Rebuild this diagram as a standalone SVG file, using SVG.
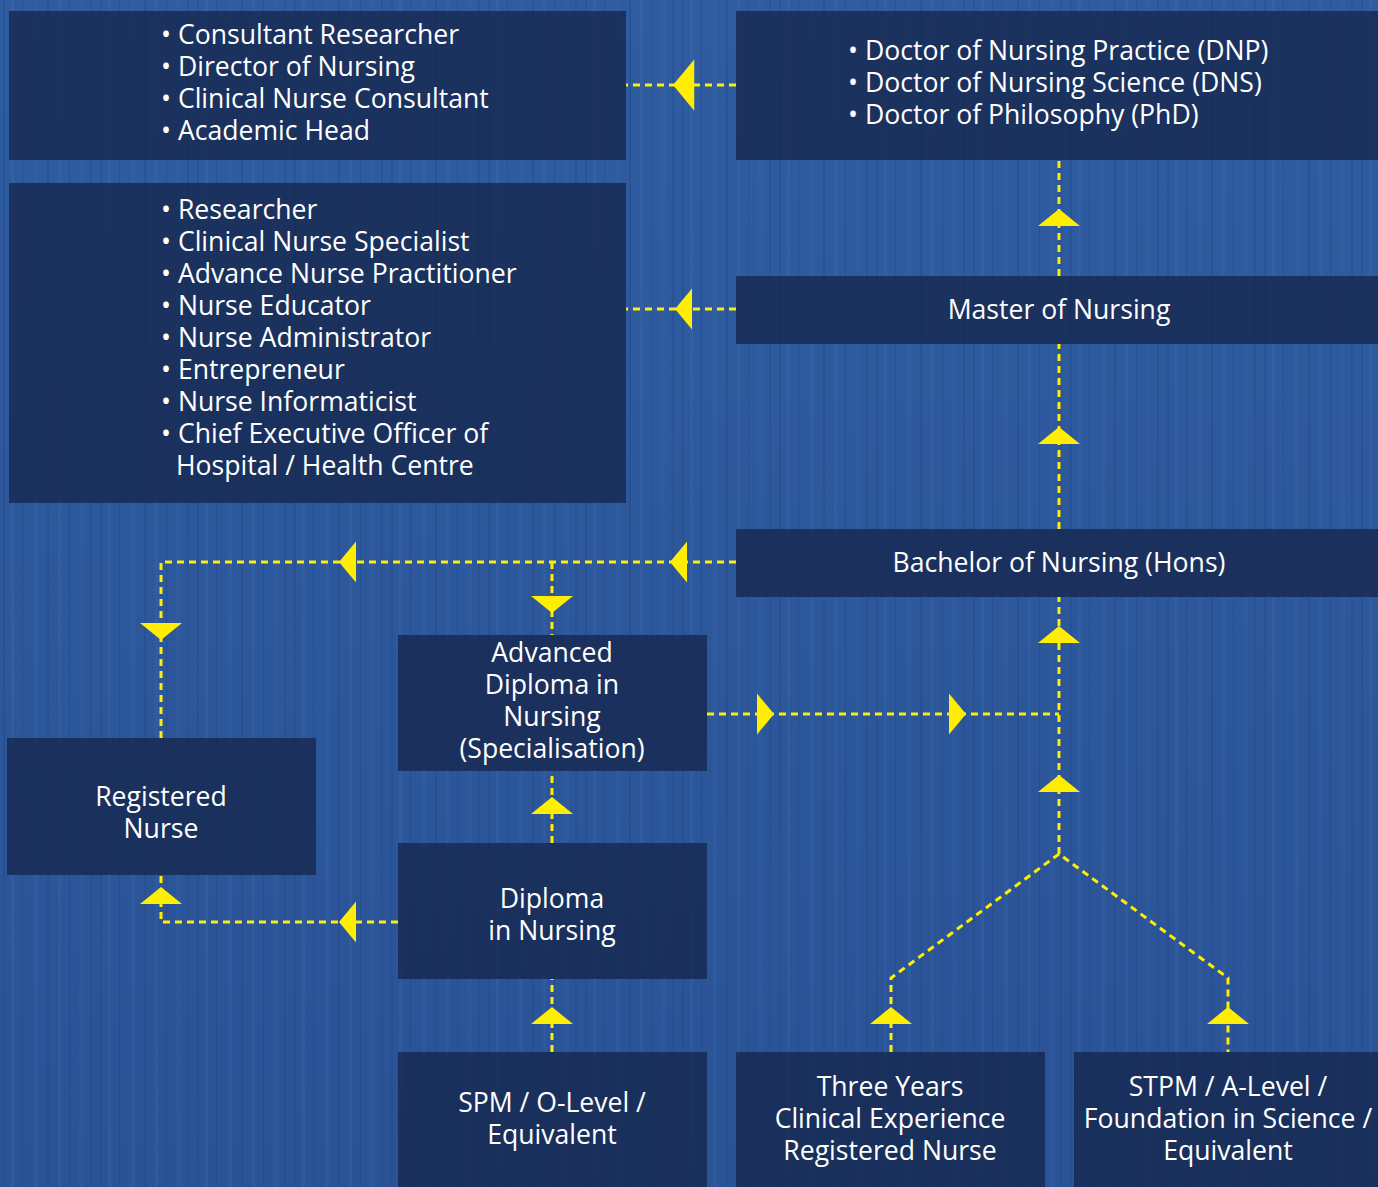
<svg xmlns="http://www.w3.org/2000/svg" width="1378" height="1187" viewBox="0 0 1378 1187">
<defs>
<linearGradient id="bgg" x1="0" y1="0" x2="0" y2="1">
<stop offset="0" stop-color="#2f5ca1"/>
<stop offset="1" stop-color="#2a5396"/>
</linearGradient>
<pattern id="streaks" x="0" y="0" width="97" height="1187" patternUnits="userSpaceOnUse">
<rect x="3" y="0" width="2" height="1187" fill="#1d3f7e" opacity="0.25"/>
<rect x="11" y="0" width="3" height="1187" fill="#4a74b8" opacity="0.2"/>
<rect x="22" y="0" width="1" height="1187" fill="#183a78" opacity="0.3"/>
<rect x="34" y="0" width="4" height="1187" fill="#3d68ad" opacity="0.25"/>
<rect x="47" y="0" width="2" height="1187" fill="#1b3c7b" opacity="0.25"/>
<rect x="58" y="0" width="3" height="1187" fill="#5079bb" opacity="0.15"/>
<rect x="69" y="0" width="1" height="1187" fill="#1a3a77" opacity="0.3"/>
<rect x="79" y="0" width="5" height="1187" fill="#3a66ab" opacity="0.2"/>
<rect x="90" y="0" width="2" height="1187" fill="#1e4080" opacity="0.25"/>
</pattern>
<polygon id="aL" points="0,0 17,-20.5 17,20.5"/>
<polygon id="aR" points="0,0 -17,-20.5 -17,20.5"/>
<polygon id="aU" points="0,0 -21,17 21,17"/>
<polygon id="aD" points="0,0 -21,-17 21,-17"/>
</defs>
<style>
.node rect{fill:#17284f;opacity:0.82}
.node text{font-family:"Open Sans","Noto Sans","Liberation Sans",sans-serif;font-size:26.6px;fill:#ffffff}
.c{text-anchor:middle}
.ln{fill:none;stroke:#ffee00;stroke-width:3;stroke-dasharray:7 5}
.ah{fill:#ffee00}
</style>
<rect x="0" y="0" width="1378" height="1187" fill="url(#bgg)"/>
<rect x="0" y="0" width="1378" height="1187" fill="url(#streaks)"/>

<g id="connectors">
<path class="ln" d="M736,85 H626"/>
<path class="ln" d="M736,309 H626"/>
<path class="ln" d="M1059,276 V160"/>
<path class="ln" d="M1059,529 V344"/>
<path class="ln" d="M736,562 H161 V738"/>
<path class="ln" d="M552,562 V635"/>
<path class="ln" d="M707,714 H1059"/>
<path class="ln" d="M1059,854 V597"/>
<path class="ln" d="M891,1052 V978 L1059,854 L1228,978 V1052"/>
<path class="ln" d="M552,843 V771"/>
<path class="ln" d="M552,1052 V979"/>
<path class="ln" d="M398,922 H161 V875"/>
<use href="#aL" class="ah" transform="translate(673,85) scale(1.25)"/>
<use href="#aL" class="ah" x="675" y="309"/>
<use href="#aU" class="ah" x="1059" y="209"/>
<use href="#aU" class="ah" x="1059" y="427"/>
<use href="#aL" class="ah" x="670" y="562"/>
<use href="#aL" class="ah" x="339" y="562"/>
<use href="#aD" class="ah" x="552" y="613"/>
<use href="#aD" class="ah" x="161" y="640"/>
<use href="#aR" class="ah" x="774" y="714"/>
<use href="#aR" class="ah" x="966" y="714"/>
<use href="#aU" class="ah" x="1059" y="626"/>
<use href="#aU" class="ah" x="1059" y="775"/>
<use href="#aU" class="ah" x="552" y="797"/>
<use href="#aU" class="ah" x="552" y="1007"/>
<use href="#aU" class="ah" x="891" y="1007"/>
<use href="#aU" class="ah" x="1228" y="1007"/>
<use href="#aL" class="ah" x="339" y="922"/>
<use href="#aU" class="ah" x="161" y="887"/>
</g>

<g id="n-careers-top" class="node">
<rect x="9" y="11" width="617" height="149"/>
<text x="161" y="44">• Consultant Researcher</text>
<text x="161" y="76">• Director of Nursing</text>
<text x="161" y="108">• Clinical Nurse Consultant</text>
<text x="161" y="140">• Academic Head</text>
</g>
<g id="n-careers-master" class="node">
<rect x="9" y="183" width="617" height="320"/>
<text x="161" y="219">• Researcher</text>
<text x="161" y="251">• Clinical Nurse Specialist</text>
<text x="161" y="283">• Advance Nurse Practitioner</text>
<text x="161" y="315">• Nurse Educator</text>
<text x="161" y="347">• Nurse Administrator</text>
<text x="161" y="379">• Entrepreneur</text>
<text x="161" y="411">• Nurse Informaticist</text>
<text x="161" y="443">• Chief Executive Officer of</text>
<text x="176" y="475">Hospital / Health Centre</text>
</g>
<g id="n-doctorate" class="node">
<rect x="736" y="11" width="642" height="149"/>
<text x="848" y="60">• Doctor of Nursing Practice (DNP)</text>
<text x="848" y="92">• Doctor of Nursing Science (DNS)</text>
<text x="848" y="124">• Doctor of Philosophy (PhD)</text>
</g>
<g id="n-master" class="node">
<rect x="736" y="276" width="642" height="68"/>
<text class="c" x="1059" y="319">Master of Nursing</text>
</g>
<g id="n-bachelor" class="node">
<rect x="736" y="529" width="642" height="68"/>
<text class="c" x="1059" y="572">Bachelor of Nursing (Hons)</text>
</g>
<g id="n-adv-diploma" class="node">
<rect x="398" y="635" width="309" height="136"/>
<text class="c" x="552" y="662">Advanced</text>
<text class="c" x="552" y="694">Diploma in</text>
<text class="c" x="552" y="726">Nursing</text>
<text class="c" x="552" y="758">(Specialisation)</text>
</g>
<g id="n-registered-nurse" class="node">
<rect x="7" y="738" width="309" height="137"/>
<text class="c" x="161" y="806">Registered</text>
<text class="c" x="161" y="838">Nurse</text>
</g>
<g id="n-diploma" class="node">
<rect x="398" y="843" width="309" height="136"/>
<text class="c" x="552" y="908">Diploma</text>
<text class="c" x="552" y="940">in Nursing</text>
</g>
<g id="n-spm" class="node">
<rect x="398" y="1052" width="309" height="135"/>
<text class="c" x="552" y="1112">SPM / O-Level /</text>
<text class="c" x="552" y="1144">Equivalent</text>
</g>
<g id="n-three-years" class="node">
<rect x="736" y="1052" width="309" height="135"/>
<text class="c" x="890" y="1096">Three Years</text>
<text class="c" x="890" y="1128">Clinical Experience</text>
<text class="c" x="890" y="1160">Registered Nurse</text>
</g>
<g id="n-stpm" class="node">
<rect x="1074" y="1052" width="304" height="135"/>
<text class="c" x="1228" y="1096">STPM / A-Level /</text>
<text class="c" x="1228" y="1128">Foundation in Science /</text>
<text class="c" x="1228" y="1160">Equivalent</text>
</g>
</svg>
